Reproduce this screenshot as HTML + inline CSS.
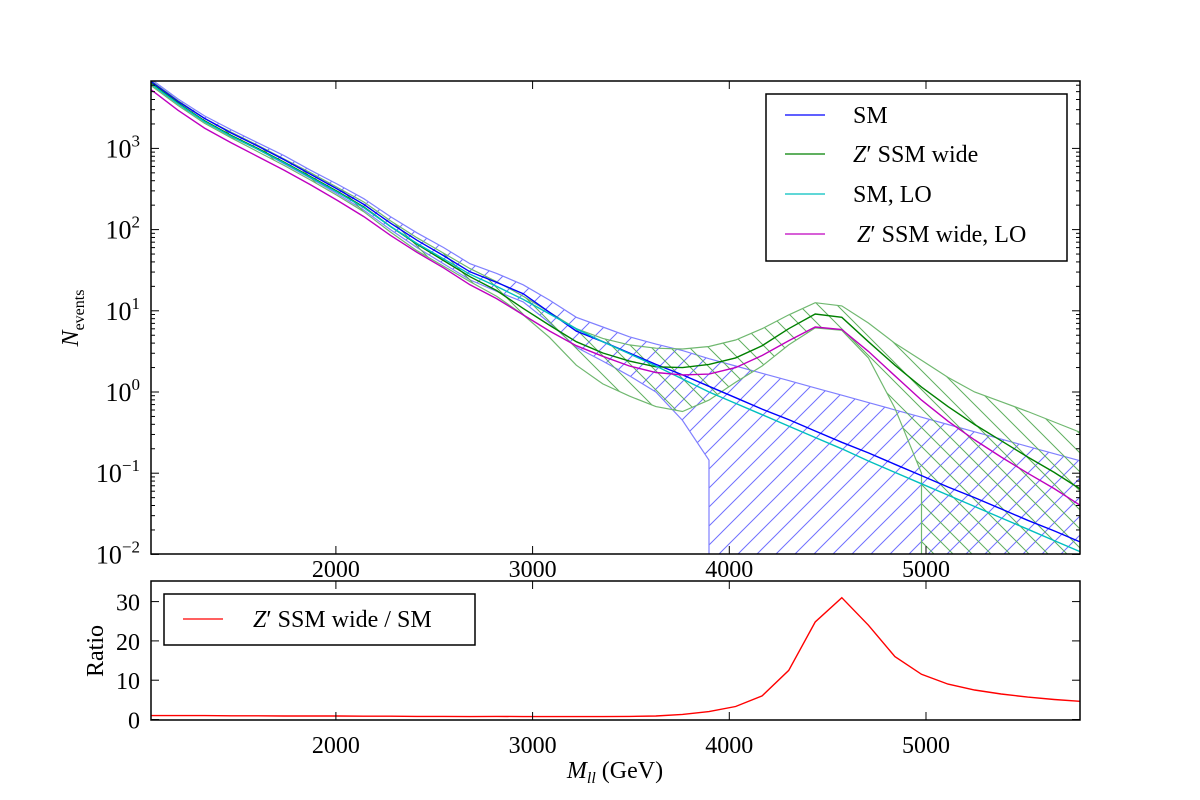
<!DOCTYPE html>
<html><head><meta charset="utf-8"><style>
html,body{margin:0;padding:0;background:#fff;}
svg{display:block;font-family:"Liberation Serif",serif;}
</style></head><body>
<svg id="chart" width="1200" height="800" viewBox="0 0 1200 800">
<defs>
<clipPath id="clipMain"><rect x="151" y="81" width="929" height="473"/></clipPath>
<clipPath id="clipRatio"><rect x="151" y="581" width="929" height="139"/></clipPath>
<pattern id="hatchBlue" patternUnits="userSpaceOnUse" width="19" height="19"><path d="M-1,20 L20,-1 M-5,5 L5,-5 M14,24 L24,14" stroke="#7070ff" stroke-width="1"/></pattern>
<pattern id="hatchGreen" patternUnits="userSpaceOnUse" width="19" height="19"><path d="M-1,-1 L20,20 M-5,14 L5,24 M14,-5 L24,5" stroke="#60b060" stroke-width="1"/></pattern>
</defs>
<rect width="1200" height="800" fill="#fff"/>
<g id="mainMarks" clip-path="url(#clipMain)"></g>
<g id="ratioMarks" clip-path="url(#clipRatio)"></g>
<g id="axes"></g>
<rect x="151" y="81" width="929" height="473" fill="none" stroke="#000" stroke-width="1.5"/>
<rect x="151" y="581" width="929" height="139" fill="none" stroke="#000" stroke-width="1.5"/>
<text transform="translate(78,318) rotate(-90)" text-anchor="middle" font-size="24"><tspan font-style="italic">N</tspan><tspan font-size="16" dy="6">events</tspan></text>
<text transform="translate(103,651) rotate(-90)" text-anchor="middle" font-size="24">Ratio</text>
<text x="615" y="778" text-anchor="middle" font-size="24"><tspan font-style="italic">M</tspan><tspan font-style="italic" font-size="16" dy="5">ll</tspan><tspan dy="-5"> (GeV)</tspan></text>
<g>
<rect x="766" y="94" width="301" height="167" fill="#fff" stroke="#000" stroke-width="1.5"/>
<line x1="785" y1="115" x2="825" y2="115" stroke="#0000ff" stroke-width="1.3"/>
<text x="853" y="123" font-size="24">SM</text>
<line x1="785" y1="154" x2="825" y2="154" stroke="#008000" stroke-width="1.3"/>
<text x="853" y="162" font-size="24"><tspan font-style="italic">Z</tspan>′ SSM wide</text>
<line x1="785" y1="194" x2="825" y2="194" stroke="#00bfbf" stroke-width="1.3"/>
<text x="853" y="202" font-size="24">SM,  LO</text>
<line x1="785" y1="234" x2="825" y2="234" stroke="#bf00bf" stroke-width="1.3"/>
<text x="857" y="242" font-size="24"><tspan font-style="italic">Z</tspan>′ SSM wide,  LO</text>
</g>
<g>
<rect x="164" y="594" width="311" height="51" fill="#fff" stroke="#000" stroke-width="1.5"/>
<line x1="183" y1="619" x2="223" y2="619" stroke="#ff0000" stroke-width="1.3"/>
<text x="253" y="627" font-size="24"><tspan font-style="italic">Z</tspan>′ SSM wide / SM</text>
</g>
</svg>
<script>
const massBins = [1062,1197,1332,1467,1602,1737,1872,2007,2142,2277,2412,2547,2682,2817,2952,3087,3222,3357,3492,3627,3762,3897,4032,4167,4302,4437,4572,4707,4842,4977,5112,5247,5382,5517,5652,5787];
// log10 of event counts
const smLog = [3.82,3.58,3.37,3.19,3.03,2.86,2.68,2.50,2.31,2.08,1.87,1.68,1.48,1.35,1.21,0.98,0.75,0.62,0.48,0.34,0.21,0.07,-0.07,-0.21,-0.34,-0.48,-0.62,-0.75,-0.89,-1.03,-1.17,-1.30,-1.44,-1.58,-1.71,-1.85];
const smUpperLog = [3.85,3.61,3.40,3.23,3.07,2.91,2.73,2.56,2.38,2.16,1.96,1.78,1.58,1.46,1.32,1.13,0.92,0.80,0.68,0.59,0.51,0.41,0.32,0.23,0.14,0.05,-0.04,-0.13,-0.22,-0.31,-0.40,-0.49,-0.58,-0.67,-0.76,-0.85];
const smLowerLog = [3.79,3.55,3.34,3.15,2.99,2.81,2.63,2.44,2.24,2.00,1.78,1.58,1.38,1.24,1.11,0.85,0.55,0.38,0.20,0.00,-0.35,-0.84,null,null,null,null,null,null,null,null,null,null,null,null,null,null];
const zpLog = [3.80,3.56,3.34,3.16,3.00,2.83,2.65,2.47,2.28,2.04,1.82,1.62,1.42,1.25,1.03,0.82,0.62,0.48,0.38,0.31,0.30,0.34,0.42,0.57,0.78,0.96,0.92,0.62,0.33,0.06,-0.18,-0.40,-0.60,-0.80,-0.99,-1.20];
const zpUpperLog = [3.83,3.59,3.37,3.20,3.04,2.87,2.70,2.52,2.34,2.11,1.90,1.71,1.52,1.36,1.18,0.98,0.78,0.66,0.58,0.54,0.53,0.56,0.64,0.78,0.95,1.10,1.06,0.85,0.60,0.39,0.18,0.00,-0.12,-0.24,-0.37,-0.50];
const zpLowerLog = [3.77,3.53,3.31,3.13,2.96,2.79,2.61,2.42,2.22,1.97,1.74,1.55,1.36,1.18,0.95,0.67,0.33,0.10,-0.05,-0.18,-0.24,-0.10,0.12,0.32,0.58,0.79,0.76,0.42,-0.20,-1.00,null,null,null,null,null,null];
const smLoLog = [3.79,3.55,3.33,3.15,2.99,2.82,2.64,2.46,2.27,2.04,1.83,1.64,1.45,1.30,1.14,0.96,0.78,0.62,0.47,0.32,0.16,0.00,-0.14,-0.28,-0.42,-0.56,-0.70,-0.85,-0.99,-1.13,-1.27,-1.41,-1.55,-1.69,-1.83,-1.97];
const zpLoLog = [3.72,3.47,3.25,3.07,2.90,2.73,2.55,2.36,2.16,1.93,1.72,1.53,1.32,1.15,0.95,0.75,0.57,0.44,0.32,0.24,0.21,0.22,0.30,0.45,0.63,0.80,0.77,0.50,0.20,-0.10,-0.36,-0.59,-0.80,-1.00,-1.19,-1.40];
const ratioValues = [1.0,1.0,1.0,0.95,0.95,0.9,0.9,0.9,0.85,0.85,0.8,0.8,0.75,0.8,0.75,0.75,0.75,0.75,0.8,0.9,1.3,2.0,3.3,6.0,12.5,24.8,31.0,24.0,16.0,11.5,9.0,7.5,6.5,5.7,5.1,4.6];
const xTicks = [2000,3000,4000,5000];
const xTickLabels = ["2000","3000","4000","5000"];
const yDecades = [-2,-1,0,1,2,3];
const ratioTicks = [0,10,20,30];

const NS = "http://www.w3.org/2000/svg";
const X0 = 151, X1 = 1080, XMIN = 1060, XMAX = 5783;
const xS = g => X0 + (g - XMIN) * (X1 - X0) / (XMAX - XMIN);
const MY0 = 392, DEC = 81.2, MBOT = 554, MTOP = 81;
const yS = lg => MY0 - DEC * lg;
const RY0 = 719.5, RPX = 3.93;
const rS = v => RY0 - RPX * v;
function mk(tag, attrs, parent) { const e = document.createElementNS(NS, tag); for (const k in attrs) e.setAttribute(k, attrs[k]); parent.appendChild(e); return e; }
const main = document.getElementById('mainMarks');
const ratioG = document.getElementById('ratioMarks');
const axes = document.getElementById('axes');

// returns points; when a null follows valid values, drop vertically to below axis and stop
function pts(arr) {
  const out = [];
  for (let i = 0; i < arr.length; i++) {
    const v = arr[i];
    if (v === null) {
      if (out.length) out.push([out[out.length - 1][0], MBOT + 20]);
      break;
    }
    out.push([xS(massBins[i]), yS(v)]);
  }
  return out;
}
function lineD(p) { return p.map((q, i) => (i ? 'L' : 'M') + q[0].toFixed(1) + ',' + q[1].toFixed(1)).join(''); }
function band(upper, lower, fillId, edge, name) {
  const up = pts(upper);
  const lo = pts(lower);
  const loFull = lo.slice();
  if (lower.indexOf(null) >= 0) loFull.push([xS(massBins[massBins.length - 1]) + 20, MBOT + 20]);
  const poly = up.concat(loFull.slice().reverse());
  const p = mk('path', { d: lineD(poly) + 'Z', fill: 'url(#' + fillId + ')', stroke: 'none' }, main);
  
  
  const u = mk('path', { d: lineD(up), fill: 'none', stroke: edge, 'stroke-width': 1.2 }, main);
  
  
  const l = mk('path', { d: lineD(lo), fill: 'none', stroke: edge, 'stroke-width': 1.2 }, main);
  
  
}
band(smUpperLog, smLowerLog, 'hatchBlue', '#8080ff', 'sm');
band(zpUpperLog, zpLowerLog, 'hatchGreen', '#70b870', 'zprime');
function series(arr, color, name) {
  const s = mk('path', { d: lineD(pts(arr)), fill: 'none', stroke: color, 'stroke-width': 1.4 }, main);
  
  
}
series(smLog, '#0000ff', 'sm-line');
series(zpLog, '#008000', 'zprime-line');
series(smLoLog, '#00bfbf', 'sm-lo-line');
series(zpLoLog, '#bf00bf', 'zprime-lo-line');
const rl = mk('path', { d: lineD(ratioValues.map((v, i) => [xS(massBins[i]), rS(v)])), fill: 'none', stroke: '#ff0000', 'stroke-width': 1.4 }, ratioG);



xTicks.forEach((t, i) => {
  const x = xS(t);
  [[81, 89], [554, 546], [581, 589], [720, 712]].forEach(([a, b]) => mk('line', { x1: x, y1: a, x2: x, y2: b, stroke: '#000', 'stroke-width': 1 }, axes));
  [[568, 'main'], [744, 'ratio']].forEach(([y, nm]) => {
    const tx = mk('text', { x: x, y: y + 9, 'text-anchor': 'middle', 'font-size': 24 }, axes);
    tx.textContent = xTickLabels[i];
    
    
  });
});
yDecades.forEach(d => {
  const y = yS(d);
  mk('line', { x1: 151, y1: y, x2: 159, y2: y, stroke: '#000' }, axes);
  mk('line', { x1: 1080, y1: y, x2: 1072, y2: y, stroke: '#000' }, axes);
  const tx = mk('text', { x: 140, y: y + 9, 'text-anchor': 'end', 'font-size': 26 }, axes);
  
  
  const b = document.createElementNS(NS, 'tspan'); b.textContent = '10'; tx.appendChild(b);
  const s = document.createElementNS(NS, 'tspan'); s.setAttribute('font-size', 17); s.setAttribute('dy', -11);
  s.textContent = d < 0 ? '\u2212' + (-d) : String(d); tx.appendChild(s);
  for (let m = 2; m <= 9; m++) {
    const ym = yS(d + Math.log10(m));
    if (ym < MTOP || ym > MBOT) continue;
    mk('line', { x1: 151, y1: ym, x2: 155, y2: ym, stroke: '#000' }, axes);
    mk('line', { x1: 1080, y1: ym, x2: 1076, y2: ym, stroke: '#000' }, axes);
  }
});
ratioTicks.forEach(t => {
  const y = rS(t);
  mk('line', { x1: 151, y1: y, x2: 159, y2: y, stroke: '#000' }, axes);
  mk('line', { x1: 1080, y1: y, x2: 1072, y2: y, stroke: '#000' }, axes);
  const tx = mk('text', { x: 140, y: y + 9, 'text-anchor': 'end', 'font-size': 24 }, axes);
  tx.textContent = String(t);
  
  
});
</script>
</body></html>
